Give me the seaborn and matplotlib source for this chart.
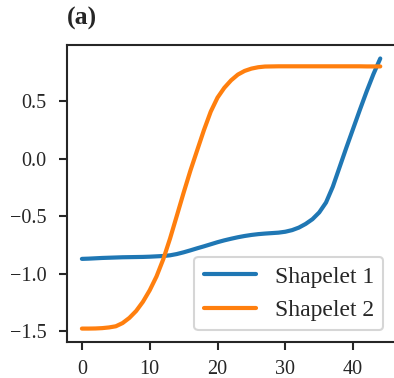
import numpy as np
import pandas as pd
import seaborn as sns
import matplotlib
matplotlib.use("Agg")
import matplotlib.pyplot as plt

x_vals = list(range(45))
shapelet1 = [-0.872, -0.870, -0.867, -0.864, -0.862, -0.860, -0.858, -0.857, -0.856, -0.855,
             -0.853, -0.850, -0.847, -0.841, -0.830, -0.815, -0.798, -0.780, -0.763, -0.745,
             -0.727, -0.711, -0.697, -0.684, -0.673, -0.664, -0.657, -0.652, -0.648, -0.644,
             -0.636, -0.622, -0.600, -0.568, -0.527, -0.468, -0.382, -0.245, -0.075, 0.095,
             0.260, 0.425, 0.585, 0.735, 0.870]
shapelet2 = [-1.478, -1.478, -1.477, -1.474, -1.468, -1.458, -1.430, -1.385, -1.325, -1.245,
             -1.145, -1.025, -0.875, -0.695, -0.497, -0.297, -0.105, 0.072, 0.248, 0.408,
             0.530, 0.615, 0.680, 0.730, 0.762, 0.782, 0.794, 0.800, 0.801, 0.802,
             0.802, 0.802, 0.802, 0.802, 0.802, 0.802, 0.802, 0.802, 0.802, 0.802,
             0.802, 0.802, 0.801, 0.801, 0.801]
series_names = ["Shapelet 1", "Shapelet 2"]
title_text = "(a)"

df = pd.DataFrame({
    "x": x_vals * 2,
    "y": shapelet1 + shapelet2,
    "series": [series_names[0]] * len(x_vals) + [series_names[1]] * len(x_vals),
})

sns.set_style("ticks")
plt.rcParams["font.family"] = ["Liberation Serif", "DejaVu Serif"]
plt.rcParams["axes.linewidth"] = 1.5
plt.rcParams["xtick.major.width"] = 1.5
plt.rcParams["ytick.major.width"] = 1.5
plt.rcParams["xtick.major.size"] = 6
plt.rcParams["ytick.major.size"] = 6
plt.rcParams["xtick.major.pad"] = 7
plt.rcParams["ytick.major.pad"] = 8.5

fig = plt.figure(figsize=(3.94, 3.78), dpi=100)
ax = fig.add_axes([0.170, 0.095, 0.833, 0.786])
sns.lineplot(data=df, x="x", y="y", hue="series", palette=["#1f77b4", "#ff7f0e"],
             linewidth=3, ax=ax)
ax.set_xlabel("")
ax.set_ylabel("")
ax.set_xticks([0, 10, 20, 30, 40])
ax.set_yticks([-1.5, -1.0, -0.5, 0.0, 0.5])
ax.tick_params(labelsize=14.5)
ax.set_title(title_text, loc="left", fontweight="bold", fontsize=18.5, pad=15)
leg = ax.legend(loc="lower right", fontsize=17, frameon=True, fancybox=True,
                handlelength=2.2)
leg.get_frame().set_edgecolor("#cccccc")
leg.get_frame().set_linewidth(1.5)
fig.savefig("out.png", dpi=100)
